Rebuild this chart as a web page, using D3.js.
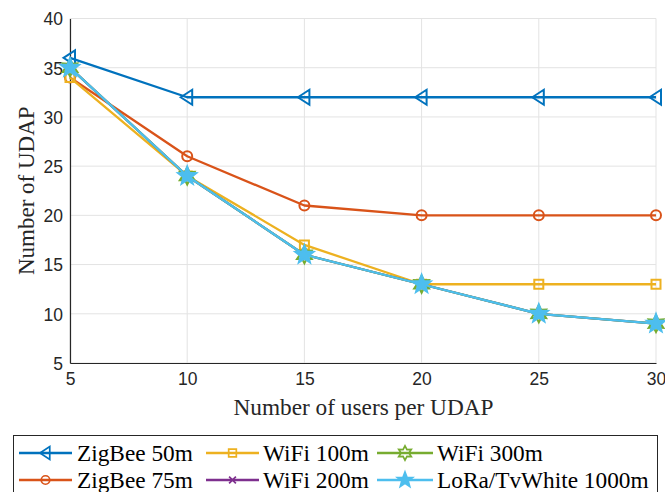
<!DOCTYPE html>
<html>
<head>
<meta charset="utf-8">
<script src="https://cdn.jsdelivr.net/npm/d3@7"></script>
<style>
  html, body { margin: 0; padding: 0; background: #fff; }
  svg { display: block; }
</style>
</head>
<body>
<div id="chart"></div>
<script>
// Users per UDAP (x axis)
const users = [5, 10, 15, 20, 25, 30];

// Number of UDAP needed for each radio technology / range
const zigbee50  = [36, 32, 32, 32, 32, 32];
const zigbee75  = [34, 26, 21, 20, 20, 20];
const wifi100   = [34, 24, 17, 13, 13, 13];
const wifi200   = [35, 24, 16, 13, 10, 9];
const wifi300   = [35, 24, 16, 13, 10, 9];
const lora1000  = [35, 24, 16, 13, 10, 9];

const seriesNames = ["ZigBee 50m", "ZigBee 75m", "WiFi 100m", "WiFi 200m", "WiFi 300m", "LoRa/TvWhite 1000m"];
const seriesValues = [zigbee50, zigbee75, wifi100, wifi200, wifi300, lora1000];

const xTicks = [5, 10, 15, 20, 25, 30];
const yTicks = [5, 10, 15, 20, 25, 30, 35, 40];

const xLabel = "Number of users per UDAP";
const yLabel = "Number of UDAP";

const W = 665, H = 492;
const margin = { left: 70, right: 9, top: 18.5, bottom: 129 };

const colors = ["#0072BD", "#D95319", "#EDB120", "#7E2F8E", "#77AC30", "#4DBEEE"];

// Marker path generators (centered at origin)
function starPath(points, rOuter, rInner) {
  const p = [];
  for (let i = 0; i < points * 2; i++) {
    const r = i % 2 === 0 ? rOuter : rInner;
    const a = -Math.PI / 2 + i * Math.PI / points;
    p.push([r * Math.cos(a), r * Math.sin(a)]);
  }
  return "M" + p.map(q => q[0].toFixed(2) + "," + q[1].toFixed(2)).join("L") + "Z";
}
const markerDefs = [
  { d: "M-6.5,0L5,-7.5L5,7.5Z", fill: "none" },                       // triangle left
  { d: d3.symbol(d3.symbolCircle, Math.PI * 25)(), fill: "none" },   // circle
  { d: "M-4.5,-4.5H4.5V4.5H-4.5Z", fill: "none" },                    // square
  { d: "M-4,-4L4,4M-4,4L4,-4", fill: "none" },                        // x
  { d: starPath(6, 8.5, 4.6), fill: "none" },                         // hexagram
  { d: starPath(5, 9.5, 4.0), fill: null }                            // pentagram (filled)
];

const svg = d3.select("#chart").append("svg")
  .attr("width", W).attr("height", H);

const x = d3.scaleLinear().domain([5, 30]).range([margin.left, W - margin.right]);
const y = d3.scaleLinear().domain([5, 40]).range([H - margin.bottom, margin.top]);

// Grid
const grid = svg.append("g").attr("stroke", "#e3e3e3").attr("stroke-width", 1);
grid.selectAll(".gx").data(xTicks).join("line")
  .attr("x1", d => x(d)).attr("x2", d => x(d))
  .attr("y1", y(5)).attr("y2", y(40));
grid.selectAll(".gy").data(yTicks).join("line")
  .attr("x1", x(5)).attr("x2", x(30))
  .attr("y1", d => y(d)).attr("y2", d => y(d));

// Axes
const xAxis = d3.axisBottom(x).tickValues(xTicks).tickSize(0).tickPadding(10);
const yAxis = d3.axisLeft(y).tickValues(yTicks).tickSize(0).tickPadding(7);

const gx = svg.append("g").attr("transform", `translate(0,${y(5)})`).call(xAxis);
const gy = svg.append("g").attr("transform", `translate(${x(5)},0)`).call(yAxis);
[gx, gy].forEach(g => {
  g.select(".domain").attr("stroke", "#262626").attr("stroke-width", 1.2);
  g.selectAll("text")
    .attr("fill", "#262626")
    .style("font-family", "'Liberation Sans', Arial, sans-serif")
    .style("font-size", "17.5px");
});
gy.selectAll("text").attr("dy", "0.36em");

// Axis titles
svg.append("text")
  .attr("x", (x(5) + x(30)) / 2 + 0.5).attr("y", 415)
  .attr("text-anchor", "middle")
  .style("font-family", "'Liberation Serif', 'Times New Roman', serif")
  .style("font-size", "23.3px")
  .attr("fill", "#262626")
  .text(xLabel);

svg.append("text")
  .attr("transform", `translate(33.5,${(y(5) + y(40)) / 2}) rotate(-90)`)
  .attr("text-anchor", "middle")
  .style("font-family", "'Liberation Serif', 'Times New Roman', serif")
  .style("font-size", "23px")
  .attr("fill", "#262626")
  .text(yLabel);

// Series lines and markers
const line = d3.line().x((d, i) => x(users[i])).y(d => y(d));

seriesValues.forEach((vals, si) => {
  const g = svg.append("g");
  g.append("path")
    .attr("d", line(vals))
    .attr("fill", "none")
    .attr("stroke", colors[si])
    .attr("stroke-width", 2.3)
    .attr("stroke-linejoin", "round");
  g.selectAll("path.mk").data(vals).join("path")
    .attr("class", "mk")
    .attr("transform", (d, i) => `translate(${x(users[i])},${y(d)})`)
    .attr("d", markerDefs[si].d)
    .attr("fill", markerDefs[si].fill === null ? colors[si] : "none")
    .attr("stroke", colors[si])
    .attr("stroke-width", 2)
    .attr("stroke-linejoin", "miter");
});

// Legend
const legend = svg.append("g");
legend.append("rect")
  .attr("x", 13.5).attr("y", 435.5)
  .attr("width", 644).attr("height", 70)
  .attr("fill", "#fff")
  .attr("stroke", "#262626")
  .attr("stroke-width", 1);

const legCols = [
  { x1: 19, x2: 72, tx: 77 },
  { x1: 206, x2: 259, tx: 263 },
  { x1: 377, x2: 433, tx: 437 }
];
const legRows = [453, 480];
// Column-major order: ZigBee 50m, ZigBee 75m | WiFi 100m, WiFi 200m | WiFi 300m, LoRa
seriesNames.forEach((name, si) => {
  const c = legCols[Math.floor(si / 2)];
  const ry = legRows[si % 2];
  const g = legend.append("g");
  g.append("line")
    .attr("x1", c.x1).attr("x2", c.x2)
    .attr("y1", ry).attr("y2", ry)
    .attr("stroke", colors[si]).attr("stroke-width", 2.3);
  g.append("path")
    .attr("transform", `translate(${(c.x1 + c.x2) / 2},${ry}) scale(0.85)`)
    .attr("d", markerDefs[si].d)
    .attr("fill", markerDefs[si].fill === null ? colors[si] : "none")
    .attr("stroke", colors[si])
    .attr("stroke-width", 2);
  g.append("text")
    .attr("x", c.tx).attr("y", ry)
    .attr("dy", "0.33em")
    .style("font-family", "'Liberation Serif', 'Times New Roman', serif")
    .style("font-size", "23.3px")
    .attr("fill", "#000")
    .text(name);
});
</script>
</body>
</html>
